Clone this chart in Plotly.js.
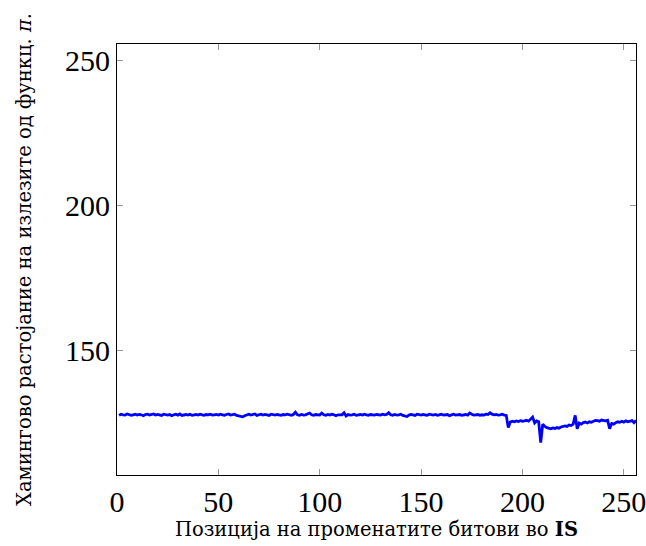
<!DOCTYPE html>
<html>
<head>
<meta charset="utf-8">
<script src="https://cdn.plot.ly/plotly-3.0.1.min.js"></script>
<style>html,body{margin:0;padding:0;background:#fff;}#chart{width:646px;height:546px;}</style>
</head>
<body>
<div id="chart"></div>
<script>
// Hamming distance between function outputs, per flipped bit position in IS
const positions = Array.from({length: 256}, (_, i) => i + 1);
const hamming = [
  127.8,128.2,128.0,127.9,128.3,128.1,127.8,128.0,128.2,127.9,128.1,128.0,127.7,128.1,128.2,127.9,
  128.0,128.3,127.9,128.1,128.0,127.8,128.2,128.0,127.9,128.1,127.7,128.0,128.2,127.9,128.3,127.8,
  128.0,128.1,127.9,128.2,127.8,128.0,128.1,127.9,128.2,128.0,127.8,128.1,128.0,128.2,127.9,128.0,
  128.1,127.9,128.2,128.0,127.8,128.1,128.3,127.9,128.0,128.2,127.8,127.6,127.4,127.3,127.7,128.0,
  128.2,127.9,128.1,128.3,127.8,128.0,128.2,127.9,128.1,128.0,127.8,128.2,128.0,127.9,128.1,128.0,
  127.8,128.1,128.0,128.2,127.9,127.8,128.1,128.9,128.0,127.8,128.1,127.9,128.0,128.2,128.6,128.0,
  127.8,128.1,128.0,127.9,128.6,128.0,127.8,128.1,127.9,128.2,128.0,127.7,128.0,128.1,128.0,128.7,
  127.6,128.1,127.9,128.0,128.2,127.8,128.0,128.1,127.9,128.2,128.0,127.8,128.1,128.0,127.9,128.1,
  128.0,127.9,128.2,128.0,128.1,128.7,128.0,127.8,128.1,127.9,128.0,128.2,127.8,127.6,127.4,127.9,
  128.1,128.0,127.8,128.2,128.0,127.9,128.1,128.0,127.8,128.2,128.0,127.9,128.1,127.8,128.0,128.2,
  127.9,128.0,128.1,127.7,128.0,128.2,127.9,128.0,128.1,127.8,128.0,128.1,127.9,128.6,128.2,127.9,
  128.0,128.1,127.8,128.0,127.9,128.2,128.1,128.7,128.2,128.0,128.1,127.9,128.0,128.2,127.9,127.8,
  123.6,125.5,125.8,125.6,125.9,125.7,126.0,125.8,125.9,126.1,125.8,126.5,127.2,125.2,125.9,125.6,
  118.4,124.8,124.0,123.6,123.4,123.2,123.5,123.3,123.6,123.4,123.8,123.9,124.2,124.0,124.5,124.3,
  124.8,127.8,123.2,125.2,124.8,125.3,125.5,125.2,125.6,125.4,125.9,126.1,126.0,125.8,126.2,126.0,
  125.9,126.1,123.2,125.0,124.8,125.3,125.6,125.4,125.8,125.5,125.9,125.6,125.8,126.0,125.3,126.1
];
const xTicks = [0, 50, 100, 150, 200, 250];
const yTicks = [150, 200, 250];

const tickFont = {family: '"Liberation Serif", serif', size: 30, color: '#000'};
const titleFont = {family: '"DejaVu Serif", serif', size: 19.5, color: '#000'};

const frame = {
  ticks: 'inside',
  ticklen: 6,
  tickcolor: '#999',
  tickwidth: 1,
  showline: true,
  linecolor: '#000',
  linewidth: 1,
  mirror: 'all',
  showgrid: false,
  zeroline: false,
  tickfont: tickFont,
  ticklabeloverflow: 'allow'
};

Plotly.newPlot('chart', [{
  x: positions,
  y: hamming,
  type: 'scatter',
  mode: 'lines',
  line: {color: '#0000ff', width: 2.8},
  hoverinfo: 'skip'
}], {
  width: 646,
  height: 546,
  margin: {l: 117, r: 10, t: 44, b: 71},
  paper_bgcolor: '#fff',
  plot_bgcolor: '#fff',
  showlegend: false,
  font: {family: '"DejaVu Serif", serif', color: '#000'},
  xaxis: Object.assign({}, frame, {
    range: [0, 256],
    tickvals: xTicks,
    ticktext: xTicks.map(String),
    title: {text: 'Позиција на променатите битови во <b>IS</b>', font: titleFont, standoff: 3}
  }),
  yaxis: Object.assign({}, frame, {
    range: [107.3, 255.5],
    tickvals: yTicks,
    ticktext: yTicks.map(String),
    title: {text: 'Хамингово растојание на излезите од функц. <i>π</i>.', font: titleFont, standoff: 28}
  })
}, {staticPlot: true, displayModeBar: false});
</script>
</body>
</html>
